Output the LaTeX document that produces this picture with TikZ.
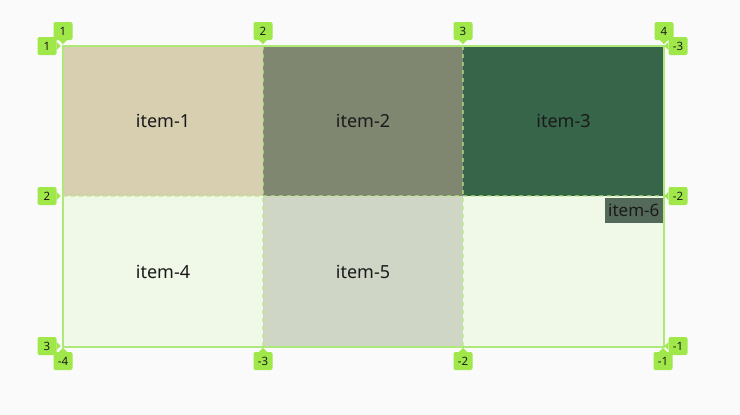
\documentclass[tikz,border=0pt]{standalone}
\usepackage{fontspec}
\setmainfont{Noto Sans}
\usetikzlibrary{calc}
\definecolor{bgc}{HTML}{FAFAFA}
\definecolor{cone}{HTML}{D7CFB0}
\definecolor{ctwo}{HTML}{808770}
\definecolor{cthree}{HTML}{37654A}
\definecolor{cbot}{HTML}{F0F8E8}
\definecolor{cfive}{HTML}{D0D6C6}
\definecolor{csix}{HTML}{536A5A}
\definecolor{badgec}{HTML}{A0E84A}
\definecolor{linec}{HTML}{ADE878}
\definecolor{dashc}{HTML}{B4EC82}
\definecolor{txt}{HTML}{1A1A1A}
\tikzset{
  item/.style={inner sep=0pt, outer sep=0pt, anchor=north west},
  label/.style={text=txt, font=\fontsize{18}{21}\selectfont},
  badge/.style={fill=badgec, rounded corners=2pt, inner sep=0pt, minimum width=19pt, minimum height=18pt, text=txt, font=\fontsize{11.5}{13}\selectfont},
  tip/.style={fill=badgec},
  gridline/.style={dashc, line width=1.6pt, dash pattern=on 4pt off 4pt, opacity=0.65},
  border/.style={linec, line width=1.8pt}
}
\begin{document}
\begin{tikzpicture}[x=1pt,y=-1pt]
\fill[bgc] (0,0) rectangle (740,415);
\useasboundingbox (0,0) rectangle (740,415);
% cells
\node[item, fill=cone, minimum width=200pt, minimum height=150pt] (i1) at (63,46) {};
\node[label] (t1) at (i1.center) {item-1};
\node[item, fill=ctwo, minimum width=200pt, minimum height=150pt] (i2) at (263,46) {};
\node[label] (t2) at (i2.center) {item-2};
\node[item, fill=cthree, minimum width=201pt, minimum height=150pt] (i3) at (463,46) {};
\node[label] (t3) at (i3.center) {item-3};
\node[item, fill=cbot, minimum width=200pt, minimum height=151pt] (i4) at (63,196) {};
\node[label] (t4) at (i4.center) {item-4};
\node[item, fill=cfive, minimum width=200pt, minimum height=151pt] (i5) at (263,196) {};
\node[label] (t5) at (i5.center) {item-5};
\node[item, fill=cbot, minimum width=201pt, minimum height=151pt] (ie) at (463,196) {};
\node[inner sep=0pt, fill=csix, minimum width=58pt, minimum height=25pt, text=txt, font=\fontsize{17}{20}\selectfont, anchor=north east] (i6) at (663,198) {item-6};
% grid lines
\draw[gridline] (263,46) -- (263,347);
\draw[gridline] (463,46) -- (463,347);
\draw[gridline] (63,196) -- (664,196);
\draw[border] (63,46) rectangle (664,347);
% top badges
\foreach \n/\x in {1/63,2/263,3/463,4/664}{
  \node[badge] (top\n) at (\x,31) {\n};
  \fill[tip] ($(top\n.south)+(-4,0)$) -- ($(top\n.south)+(4,0)$) -- ($(top\n.south)+(0,4)$) -- cycle;
}
% left badges
\foreach \n/\y in {1/46,2/196,3/346}{
  \node[badge] (left\n) at (47,\y) {\n};
  \fill[tip] ($(left\n.east)+(0,-4)$) -- ($(left\n.east)+(0,4)$) -- ($(left\n.east)+(4,0)$) -- cycle;
}
% right badges
\foreach \n/\y in {-3/46,-2/196,-1/346}{
  \node[badge] (right\n) at (678,\y) {\n};
  \fill[tip] ($(right\n.west)+(0,-4)$) -- ($(right\n.west)+(0,4)$) -- ($(right\n.west)+(-4,0)$) -- cycle;
}
% bottom badges
\foreach \n/\x in {-4/63,-3/263,-2/463,-1/663}{
  \node[badge] (bot\n) at (\x,361) {\n};
  \fill[tip] ($(bot\n.north)+(-4,0)$) -- ($(bot\n.north)+(4,0)$) -- ($(bot\n.north)+(0,-4)$) -- cycle;
}
\end{tikzpicture}
\end{document}
